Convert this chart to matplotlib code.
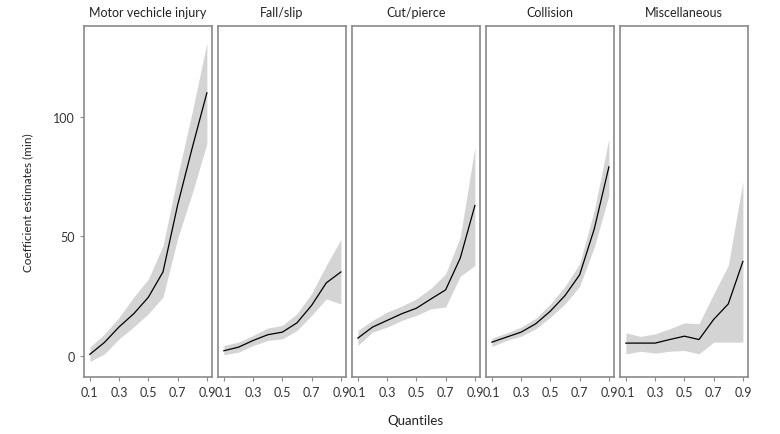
import numpy as np
import matplotlib.pyplot as plt

plt.rcParams['font.family'] = ['Lato', 'DejaVu Sans']

quantiles = [0.1, 0.2, 0.3, 0.4, 0.5, 0.6, 0.7, 0.8, 0.9]
titles = ['Motor vechicle injury', 'Fall/slip', 'Cut/pierce', 'Collision', 'Miscellaneous']

motor_est = [0.5, 5.5, 12, 17.5, 24.4, 35, 63, 87, 110]
motor_hi = [3.5, 9, 16, 24.5, 32, 46, 75, 102, 131]
motor_lo = [-2.5, 0.7, 7, 12, 17.5, 24.5, 49, 68, 88.7]

fall_est = [2, 3.5, 6.3, 8.7, 9.8, 13.7, 21, 30.4, 35]
fall_hi = [4.2, 5.6, 8.4, 11.5, 12.6, 17.5, 26, 37.7, 48.6]
fall_lo = [0.3, 1.4, 4.2, 6.3, 7, 10.5, 16.8, 23.7, 21.6]

cut_est = [7.3, 11.9, 14.7, 17.5, 19.8, 23.7, 27.5, 40.8, 62.8]
cut_hi = [10.5, 14.7, 18.2, 20.7, 23.7, 28.2, 34.2, 49.6, 87.3]
cut_lo = [4.2, 9.8, 11.9, 14.7, 16.8, 19.6, 20.3, 33.2, 37.7]

coll_est = [5.6, 7.7, 9.8, 13.3, 18.6, 25.1, 33.8, 53, 79]
coll_hi = [7.3, 9.4, 11.9, 15.6, 21.6, 29, 38.4, 60.8, 90.8]
coll_lo = [3.8, 6.3, 8.1, 11.2, 16.1, 21.6, 29, 45.4, 67]

misc_est = [5.2, 5.2, 5.2, 6.7, 8.1, 6.7, 15.1, 21.6, 39.4]
misc_hi = [9.5, 8, 9.1, 11.2, 13.7, 13.3, 25.8, 37.7, 72.9]
misc_lo = [0.7, 1.8, 1, 1.8, 2.1, 0.7, 5.6, 5.6, 5.6]

series = [
    (motor_est, motor_lo, motor_hi),
    (fall_est, fall_lo, fall_hi),
    (cut_est, cut_lo, cut_hi),
    (coll_est, coll_lo, coll_hi),
    (misc_est, misc_lo, misc_hi),
]

fig, axes = plt.subplots(1, 5, figsize=(7.8, 4.35), dpi=100, sharey=True)
fig.subplots_adjust(left=0.1077, right=0.959, bottom=0.131, top=0.938, wspace=0.047)

for i, (ax, title, (est, lo, hi)) in enumerate(zip(axes, titles, series)):
    ax.fill_between(quantiles, lo, hi, color='#d4d4d4', linewidth=0)
    ax.plot(quantiles, est, color='black', linewidth=0.9)
    ax.set_xlim(0.06, 0.935)
    ax.set_ylim(-9, 138)
    ax.set_xticks([0.1, 0.3, 0.5, 0.7, 0.9])
    ax.set_xticklabels(['0.1', '0.3', '0.5', '0.7', '0.9'])
    ax.set_yticks([0, 50, 100])
    ax.set_title(title, fontsize=9, color='#222222', pad=7)
    for s in ax.spines.values():
        s.set_color('#8a8a8a')
        s.set_linewidth(1.2)
    ax.tick_params(axis='both', colors='#8a8a8a', labelcolor='#333333',
                   labelsize=9, length=3, width=0.8)
    if i > 0:
        ax.tick_params(axis='y', length=0)

fig.text(0.036, 0.535, 'Coefficient estimates (min)', rotation=90,
         ha='center', va='center', fontsize=8.5, color='#222222')
fig.text(0.532, 0.032, 'Quantiles', ha='center', va='center',
         fontsize=9.5, color='#222222')

fig.savefig('out.png', dpi=100)
